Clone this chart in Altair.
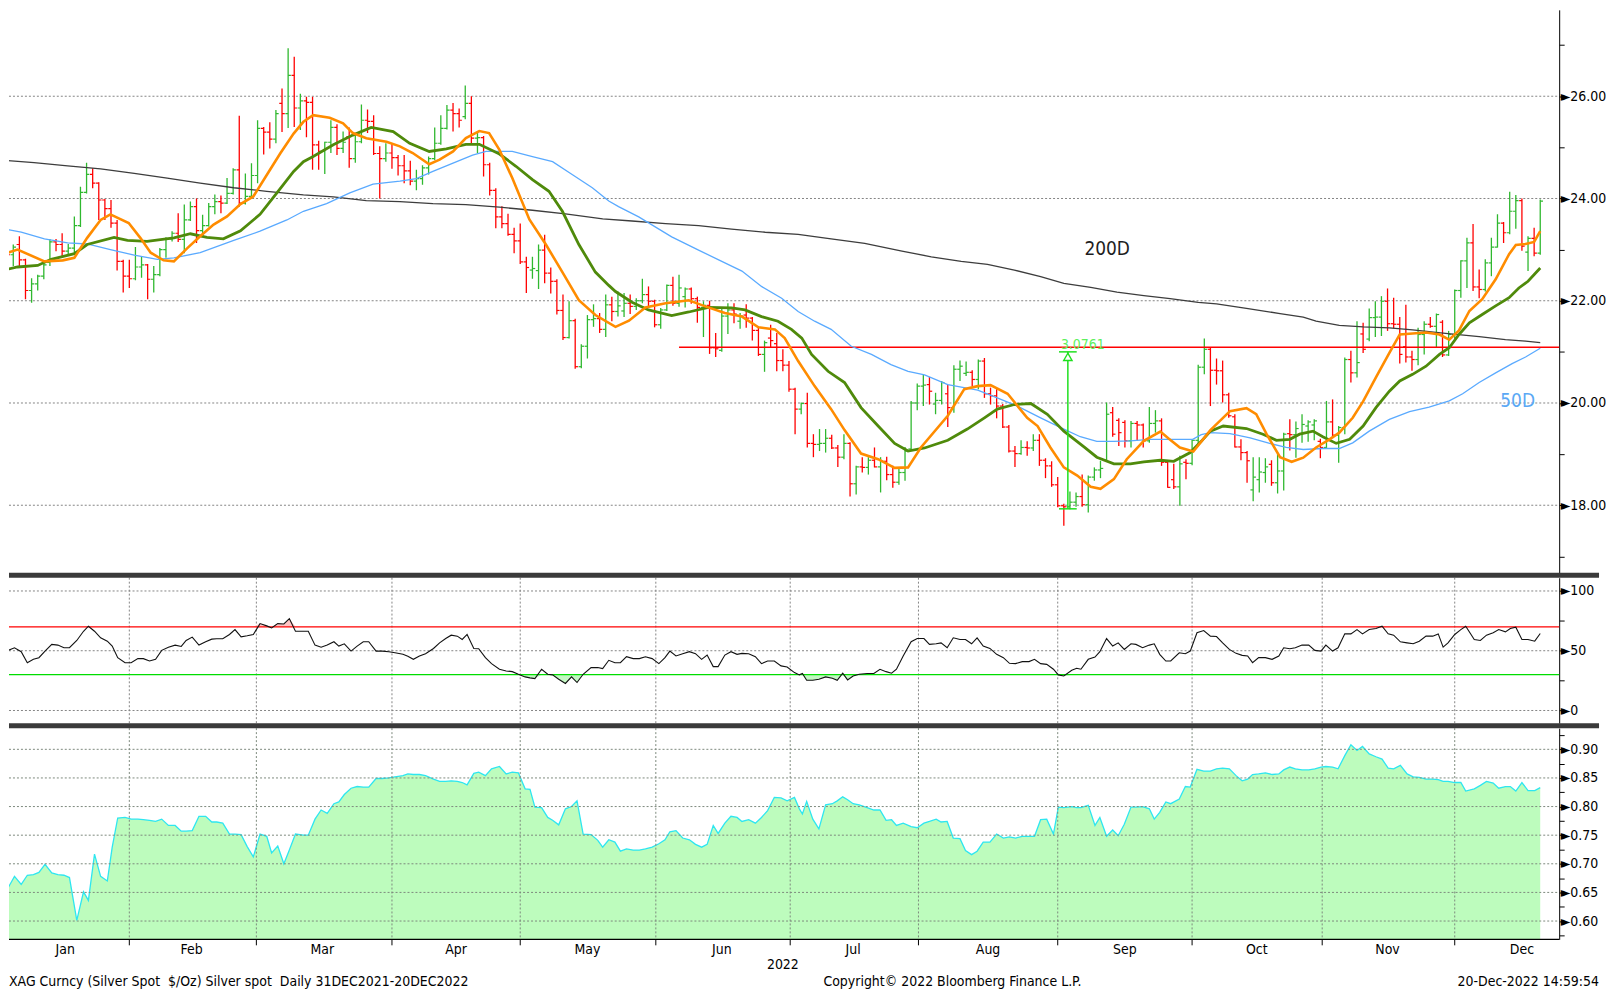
import altair as alt
import pandas as pd

FONT = "Liberation Sans Narrow, DejaVu Sans Condensed, Arial Narrow, sans-serif"

# ---------------- price data (daily OHLC, trading-day index 0..252) ----------------
opens = [
    23.05, 23.2, 22.9, 23.1, 22.8, 22.2, 22.33, 22.48, 22.75, 23.15,
    23.1, 22.97, 23.03, 23.47, 24.12, 24.47, 24.3, 23.97, 23.8, 23.52,
    22.77, 22.48, 22.43, 22.66, 22.7, 22.42, 22.51, 23.0, 23.21, 23.32,
    23.2, 23.58, 23.84, 23.37, 23.47, 23.84, 23.94, 23.91, 24.1, 24.56,
    23.91, 24.04, 24.45, 25.37, 25.3, 25.16, 25.86, 25.66, 26.41, 25.77,
    25.91, 25.88, 25.05, 24.92, 25.1, 25.39, 24.98, 25.21, 24.78, 25.11,
    25.53, 25.51, 24.88, 24.78, 24.89, 24.8, 24.64, 24.54, 24.34, 24.39,
    24.6, 24.78, 25.08, 25.37, 25.73, 25.66, 25.6, 25.86, 25.18, 25.19,
    24.66, 24.16, 23.64, 23.51, 23.3, 23.17, 22.76, 22.6, 22.59, 22.99,
    22.54, 22.38, 21.81, 21.28, 21.61, 20.71, 21.11, 21.63, 21.65, 21.44,
    21.92, 21.79, 21.8, 21.95, 21.89, 22.0, 22.12, 21.99, 21.53, 21.82,
    22.3, 21.95, 22.08, 22.23, 22.04, 21.87, 21.91, 21.08, 21.03, 21.7,
    21.82, 21.6, 21.72, 21.66, 21.42, 20.95, 21.27, 21.16, 20.83, 20.74,
    20.27, 19.88, 19.99, 19.21, 19.19, 19.21, 19.31, 19.12, 18.94, 19.21,
    18.42, 18.75, 18.74, 18.88, 18.75, 18.86, 18.6, 18.45, 18.64, 19.1,
    20.0, 20.33, 20.36, 19.98, 20.05, 20.18, 19.91, 20.66, 20.58, 20.6,
    20.46, 20.82, 20.18, 20.14, 19.94, 19.53, 19.06, 19.01, 19.13, 19.12,
    19.27, 18.88, 18.77, 18.4, 17.99, 17.97, 18.06, 18.17, 18.01, 18.55,
    18.69, 18.88, 19.81, 19.66, 19.62, 19.26, 19.6, 19.57, 19.26, 19.6,
    19.65, 18.84, 18.5, 18.36, 18.84, 18.82, 19.27, 20.7, 21.05, 20.64,
    20.63, 20.16, 19.73, 19.14, 19.03, 18.3, 18.5, 18.64, 18.8, 18.44,
    18.67, 19.4, 19.38, 19.4, 19.55, 19.57, 19.25, 19.13, 19.63, 19.37,
    19.52, 20.85, 20.59, 21.35, 21.25, 21.67, 21.68, 21.99, 21.55, 21.54,
    21.1, 20.9, 20.85, 21.34, 21.54, 21.5, 21.58, 20.94, 21.34, 22.2,
    22.78, 23.13, 22.27, 22.22, 22.74, 23.05, 23.52, 23.33, 23.75, 23.96,
    22.95, 23.22, 22.93,
]
highs = [
    23.38, 23.23, 23.10, 23.26, 22.82, 22.44, 22.51, 22.77, 23.21, 23.21,
    23.32, 23.11, 23.65, 24.23, 24.7, 24.59, 24.32, 23.99, 23.97, 23.58,
    22.8, 22.8, 23.05, 22.87, 22.72, 22.68, 23.03, 23.24, 23.36, 23.71,
    23.88, 23.94, 24.0, 23.68, 23.91, 24.08, 24.06, 24.4, 24.59, 25.62,
    24.49, 24.69, 25.53, 25.4, 25.49, 25.73, 26.15, 26.94, 26.77, 26.05,
    25.99, 25.99, 25.13, 25.11, 25.53, 25.45, 25.31, 25.39, 25.24, 25.84,
    25.74, 25.63, 25.02, 25.08, 25.08, 24.85, 24.85, 24.74, 24.56, 24.65,
    24.82, 25.39, 25.63, 25.83, 25.87, 25.76, 26.21, 26.0, 25.31, 25.22,
    24.7, 24.2, 23.85, 23.7, 23.43, 23.51, 22.86, 22.86, 23.1, 23.29,
    22.65, 22.42, 22.12, 21.99, 21.65, 21.15, 21.72, 21.93, 21.76, 22.12,
    22.08, 22.18, 22.15, 22.12, 22.05, 22.43, 22.28, 22.02, 21.86, 22.32,
    22.47, 22.51, 22.26, 22.26, 22.08, 21.99, 22.0, 21.37, 21.86, 21.95,
    21.95, 21.76, 21.93, 21.68, 21.47, 21.22, 21.53, 21.37, 21.05, 20.82,
    20.3, 20.01, 20.2, 19.39, 19.49, 19.49, 19.38, 19.18, 19.39, 19.23,
    18.77, 18.94, 18.94, 19.13, 18.94, 18.95, 18.77, 18.75, 19.14, 20.04,
    20.38, 20.56, 20.51, 20.2, 20.43, 20.36, 20.74, 20.83, 20.81, 20.64,
    20.85, 20.88, 20.3, 20.27, 19.98, 19.57, 19.16, 19.27, 19.25, 19.39,
    19.39, 18.92, 18.86, 18.55, 18.03, 18.27, 18.25, 18.6, 18.58, 18.74,
    18.87, 20.01, 19.92, 19.7, 19.66, 19.65, 19.65, 19.6, 19.92, 19.86,
    19.7, 18.88, 18.81, 18.97, 18.9, 19.29, 20.75, 21.26, 21.08, 20.87,
    20.83, 20.2, 19.78, 19.29, 19.06, 18.94, 18.94, 18.92, 18.88, 19.0,
    19.42, 19.68, 19.64, 19.78, 19.66, 19.68, 19.3, 20.04, 20.07, 19.55,
    20.89, 21.02, 21.6, 21.57, 21.85, 21.99, 22.09, 22.24, 22.06, 21.68,
    21.92, 21.02, 21.47, 21.6, 21.68, 21.75, 21.62, 21.41, 22.22, 22.79,
    23.23, 23.5, 22.61, 22.81, 23.23, 23.69, 23.54, 24.13, 24.07, 24.0,
    23.26, 23.43, 23.98,
]
lows = [
    22.95, 22.68, 22.68, 22.68, 22.03, 21.96, 22.2, 22.42, 22.68, 22.97,
    22.87, 22.89, 22.93, 23.44, 24.1, 24.2, 23.58, 23.58, 23.43, 22.59,
    22.16, 22.25, 22.4, 22.45, 22.03, 22.16, 22.48, 22.84, 23.16, 23.15,
    22.93, 23.56, 23.13, 23.26, 23.45, 23.69, 23.71, 23.89, 24.08, 23.84,
    23.88, 24.0, 24.3, 24.86, 24.98, 25.08, 25.3, 25.38, 25.4, 25.34,
    25.2, 24.56, 24.56, 24.48, 24.89, 24.85, 24.89, 24.6, 24.7, 25.08,
    25.28, 24.85, 24.0, 24.72, 24.58, 24.45, 24.3, 24.26, 24.16, 24.27,
    24.47, 24.75, 25.05, 25.35, 25.31, 25.39, 25.55, 25.08, 24.89, 24.43,
    24.06, 23.42, 23.42, 23.27, 22.93, 22.72, 22.15, 22.43, 22.23, 22.34,
    22.14, 21.73, 21.23, 21.26, 20.67, 20.68, 20.87, 21.49, 21.37, 21.29,
    21.6, 21.69, 21.68, 21.74, 21.82, 21.95, 21.87, 21.48, 21.45, 21.8,
    21.9, 21.88, 21.87, 21.94, 21.57, 21.29, 20.96, 20.9, 21.0, 21.35,
    21.56, 21.45, 21.47, 21.22, 20.92, 20.61, 21.09, 20.62, 20.62, 20.22,
    19.39, 19.78, 19.13, 18.94, 19.06, 19.03, 19.1, 18.75, 18.9, 18.17,
    18.21, 18.64, 18.6, 18.74, 18.25, 18.49, 18.34, 18.4, 18.48, 19.06,
    19.86, 19.94, 19.97, 19.78, 19.97, 19.53, 19.81, 20.43, 20.53, 20.33,
    20.27, 20.1, 19.97, 19.7, 19.51, 19.03, 18.75, 18.99, 18.97, 19.06,
    18.77, 18.53, 18.36, 17.96, 17.6, 17.92, 17.97, 17.97, 17.86, 18.48,
    18.53, 18.87, 19.34, 19.16, 19.13, 19.13, 19.26, 19.13, 19.22, 19.42,
    18.77, 18.34, 18.32, 17.99, 18.51, 18.78, 19.15, 20.56, 19.94, 20.36,
    20.01, 19.71, 19.13, 18.88, 18.44, 18.08, 18.25, 18.44, 18.38, 18.23,
    18.29, 19.07, 18.93, 19.22, 19.24, 19.27, 18.92, 19.1, 19.32, 18.83,
    19.39, 20.4, 20.5, 20.98, 21.21, 21.29, 21.31, 21.41, 21.46, 20.77,
    20.79, 20.63, 20.74, 20.95, 21.47, 21.09, 20.9, 20.92, 21.24, 22.06,
    22.25, 22.19, 22.05, 22.18, 22.48, 23.04, 23.13, 23.3, 23.41, 22.98,
    22.58, 22.87, 22.9,
]
closes = [
    23.33, 22.9, 23.05, 22.8, 22.2, 22.33, 22.48, 22.7, 23.15, 23.1,
    22.97, 23.03, 23.47, 24.12, 24.47, 24.3, 23.97, 23.8, 23.52, 22.77,
    22.48, 22.43, 22.66, 22.7, 22.42, 22.51, 23.0, 23.21, 23.32, 23.2,
    23.58, 23.84, 23.37, 23.47, 23.84, 23.94, 23.91, 24.1, 24.56, 23.91,
    24.04, 24.45, 25.37, 25.3, 25.16, 25.66, 25.66, 26.41, 25.77, 25.91,
    25.88, 25.05, 24.92, 25.1, 25.39, 24.98, 25.1, 24.78, 25.11, 25.53,
    25.51, 24.88, 24.78, 24.89, 24.8, 24.64, 24.54, 24.34, 24.39, 24.6,
    24.78, 25.08, 25.37, 25.73, 25.66, 25.53, 25.86, 25.18, 25.19, 24.66,
    24.16, 23.64, 23.51, 23.3, 23.17, 22.76, 22.65, 22.63, 22.99, 22.54,
    22.38, 21.81, 21.28, 21.61, 20.71, 21.11, 21.63, 21.65, 21.44, 21.92,
    21.79, 21.9, 21.95, 21.89, 22.0, 22.12, 21.99, 21.53, 21.82, 22.3,
    21.95, 22.25, 22.23, 22.04, 21.87, 21.91, 21.08, 21.06, 21.7, 21.82,
    21.74, 21.7, 21.66, 21.42, 20.95, 21.18, 21.22, 20.83, 20.74, 20.27,
    19.88, 19.99, 19.21, 19.19, 19.21, 19.31, 19.12, 18.94, 19.21, 18.42,
    18.75, 18.74, 18.88, 18.75, 18.86, 18.6, 18.45, 18.64, 19.06, 20.0,
    20.33, 20.35, 20.23, 20.05, 20.4, 19.91, 20.66, 20.72, 20.6, 20.46,
    20.82, 20.18, 20.14, 19.94, 19.53, 19.06, 19.01, 19.13, 19.12, 19.27,
    18.88, 18.77, 18.4, 17.99, 17.97, 18.06, 18.17, 18.01, 18.55, 18.69,
    18.72, 19.78, 19.39, 19.42, 19.26, 19.6, 19.57, 19.26, 19.6, 19.65,
    18.84, 18.35, 18.36, 18.81, 18.82, 19.27, 20.7, 21.05, 20.64, 20.63,
    20.16, 19.75, 19.14, 19.03, 18.87, 18.55, 18.65, 18.75, 18.44, 18.67,
    19.39, 19.38, 19.5, 19.58, 19.63, 19.65, 19.13, 19.63, 19.37, 19.52,
    20.85, 20.59, 20.79, 21.05, 21.67, 21.68, 21.99, 21.55, 21.54, 20.95,
    20.9, 20.85, 21.34, 21.54, 21.5, 21.73, 20.94, 21.34, 22.2, 22.78,
    23.13, 22.27, 22.22, 22.74, 23.05, 23.52, 23.33, 23.75, 23.96, 23.07,
    23.22, 22.93, 23.95,
]

# ---------------- moving averages (day, value) ----------------
ma_fast = [(0, 22.9), (2.7, 23.0), (7.1, 22.77), (10.1, 22.79), (12.0, 22.84), (14.1, 23.23), (16.3, 23.58),
           (17.9, 23.69), (20.9, 23.52), (22.8, 23.23), (24.5, 22.94), (26.6, 22.79), (28.3, 22.77), (30.5, 23.03),
           (32.6, 23.26), (34.8, 23.49), (37.0, 23.65), (39.2, 23.89), (41.3, 24.04), (43.5, 24.46), (45.7, 24.88),
           (47.9, 25.27), (49.5, 25.5), (51.1, 25.63), (53.8, 25.58), (56.0, 25.47), (57.6, 25.28), (59.8, 25.18),
           (63.1, 25.11), (65.3, 25.02), (67.4, 24.89), (70.1, 24.67), (71.8, 24.76), (74.0, 24.92), (76.1, 25.18),
           (78.3, 25.32), (79.9, 25.28), (81.6, 24.95), (83.7, 24.4), (86.5, 23.59), (89.2, 23.1), (91.9, 22.56),
           (94.6, 22.01), (97.3, 21.72), (100.6, 21.49), (102.8, 21.61), (105.5, 21.87), (108.8, 21.95),
           (112.6, 22.01), (115.3, 21.89), (118.5, 21.76), (121.3, 21.69), (124.0, 21.48), (126.7, 21.44),
           (128.3, 21.27), (130.5, 20.82), (133.2, 20.33), (135.9, 19.88), (138.1, 19.47), (140.8, 19.01),
           (143.6, 18.9), (146.3, 18.73), (148.5, 18.74), (150.6, 19.13), (155.0, 19.75), (157.7, 20.27),
           (159.9, 20.33), (162.0, 20.35), (164.8, 20.18), (168.0, 19.71), (169.7, 19.55), (171.8, 19.13),
           (174.0, 18.74), (176.2, 18.58), (178.4, 18.36), (180.0, 18.32), (182.2, 18.51), (184.3, 18.9),
           (187.1, 19.26), (189.8, 19.44), (191.1, 19.31), (193.0, 19.13), (195.2, 19.05), (198.0, 19.47),
           (201.2, 19.84), (203.9, 19.9), (205.5, 19.78), (207.2, 19.39), (209.4, 18.94), (211.3, 18.85),
           (213.2, 18.93), (215.3, 19.13), (217.5, 19.29), (219.1, 19.42), (221.3, 19.71), (223.0, 20.03),
           (225.1, 20.5), (227.3, 20.98), (229.0, 21.34), (231.1, 21.36), (233.3, 21.38), (235.5, 21.34),
           (237.1, 21.24), (238.7, 21.42), (240.4, 21.8), (242.5, 22.03), (244.7, 22.42), (246.9, 22.91),
           (248.0, 23.09), (249.6, 23.11), (251.0, 23.15), (252.0, 23.36)]
ma_mid = [(0, 22.59), (2.7, 22.66), (6.0, 22.69), (8.2, 22.81), (12.0, 22.92), (14.1, 23.1), (18.5, 23.24),
          (20.7, 23.18), (23.9, 23.16), (28.3, 23.23), (31.0, 23.31), (33.7, 23.24), (36.4, 23.21), (39.2, 23.37),
          (42.4, 23.69), (45.1, 24.1), (47.9, 24.53), (49.5, 24.72), (51.1, 24.82), (54.4, 25.05), (57.6, 25.24),
          (60.6, 25.39), (64.2, 25.31), (66.9, 25.08), (70.1, 24.92), (72.9, 24.97), (76.1, 25.06), (78.3, 25.06),
          (81.6, 24.87), (84.3, 24.63), (87.0, 24.37), (89.7, 24.14), (91.9, 23.75), (94.6, 23.1), (97.3, 22.56),
          (99.5, 22.3), (100.6, 22.18), (103.3, 21.97), (106.0, 21.82), (109.8, 21.71), (112.6, 21.78),
          (115.8, 21.87), (119.6, 21.86), (121.8, 21.82), (124.5, 21.69), (127.2, 21.6), (129.4, 21.44),
          (131.1, 21.27), (132.7, 20.95), (135.4, 20.62), (138.1, 20.4), (140.8, 19.91), (143.6, 19.55),
          (146.3, 19.21), (148.5, 19.06), (151.2, 19.12), (155.0, 19.27), (158.2, 19.49), (161.0, 19.71),
          (163.1, 19.88), (165.9, 19.97), (168.6, 19.99), (171.3, 19.78), (174.0, 19.45), (177.3, 19.14),
          (179.4, 18.94), (182.2, 18.81), (184.9, 18.81), (187.1, 18.85), (189.8, 18.88), (192.0, 18.86),
          (194.7, 19.03), (196.5, 19.25), (198.0, 19.45), (200.1, 19.55), (203.9, 19.5), (206.6, 19.39),
          (208.8, 19.27), (211.0, 19.29), (212.6, 19.39), (214.8, 19.45), (216.4, 19.34), (218.6, 19.21),
          (220.8, 19.29), (223.0, 19.55), (225.1, 19.91), (227.3, 20.23), (229.0, 20.43), (231.1, 20.56),
          (233.3, 20.72), (235.5, 20.95), (237.1, 21.08), (238.7, 21.34), (240.4, 21.57), (242.5, 21.73),
          (244.7, 21.9), (246.9, 22.06), (248.5, 22.25), (250.0, 22.38), (252.0, 22.64)]
ma_50d = [(0, 23.42), (3.3, 23.34), (7.1, 23.21), (10.9, 23.13), (14.1, 23.11), (17.9, 23.0), (21.8, 22.89),
          (25.6, 22.81), (28.3, 22.84), (32.6, 22.94), (38.1, 23.18), (42.4, 23.36), (46.8, 23.58), (49.5, 23.75),
          (53.3, 23.9), (57.1, 24.11), (60.9, 24.28), (65.3, 24.34), (68.0, 24.39), (70.7, 24.53), (74.0, 24.69),
          (77.2, 24.85), (79.4, 24.92), (83.7, 24.92), (87.0, 24.82), (90.3, 24.72), (93.5, 24.47), (96.8, 24.21),
          (99.5, 23.95), (101.1, 23.84), (104.4, 23.64), (109.8, 23.25), (114.2, 22.99), (118.0, 22.77),
          (121.3, 22.58), (124.5, 22.28), (127.8, 22.05), (130.5, 21.79), (133.2, 21.6), (135.9, 21.44),
          (139.2, 21.11), (142.5, 20.95), (145.7, 20.75), (148.5, 20.62), (151.2, 20.55), (155.0, 20.36),
          (159.9, 20.25), (163.1, 20.1), (166.4, 19.94), (170.2, 19.71), (174.0, 19.49), (176.7, 19.34),
          (179.4, 19.25), (182.2, 19.25), (184.9, 19.26), (188.1, 19.29), (191.4, 19.29), (195.1, 19.29),
          (196.5, 19.38), (198.0, 19.42), (201.2, 19.4), (204.5, 19.32), (207.7, 19.21), (210.4, 19.13),
          (213.2, 19.09), (216.4, 19.11), (219.1, 19.11), (221.3, 19.22), (224.0, 19.45), (227.3, 19.68),
          (230.6, 19.83), (233.8, 19.92), (237.1, 20.04), (239.3, 20.18), (242.0, 20.4), (244.7, 20.59),
          (247.4, 20.77), (249.6, 20.9), (252.0, 21.07)]
ma_200d = [(0, 24.75), (5.4, 24.7), (10.9, 24.64), (16.3, 24.58), (21.8, 24.49), (27.2, 24.4), (32.6, 24.3),
           (38.1, 24.21), (43.5, 24.14), (49.5, 24.07), (54.4, 24.03), (59.8, 23.96), (65.3, 23.94), (70.7, 23.9),
           (76.1, 23.88), (81.6, 23.83), (87.0, 23.77), (92.4, 23.7), (98.5, 23.6), (103.3, 23.56), (108.8, 23.51),
           (114.2, 23.47), (119.6, 23.4), (125.1, 23.34), (130.5, 23.3), (135.9, 23.21), (141.4, 23.12),
           (147.5, 22.97), (152.3, 22.86), (157.2, 22.77), (161.5, 22.71), (165.9, 22.6), (170.2, 22.47),
           (174.0, 22.34), (178.4, 22.26), (182.7, 22.17), (187.1, 22.1), (191.4, 22.04), (196.0, 21.97),
           (199.0, 21.94), (203.9, 21.85), (209.4, 21.75), (213.2, 21.68), (215.3, 21.6), (219.1, 21.52),
           (223.0, 21.49), (227.3, 21.47), (231.1, 21.43), (236.5, 21.36), (242.0, 21.3), (246.3, 21.24),
           (249.6, 21.21), (252.0, 21.18)]

# ---------------- lower panels: (day, RSI, correlation) ----------------
lower_pts = [
    (0.3, 57.5, 0.642), (1.2, 50.3, 0.659), (2.2, 52.5, 0.678), (3.3, 49.2, 0.664), (4.3, 40.0, 0.680),
    (5.3, 42.8, 0.681), (6.2, 44.2, 0.685), (7.2, 49.7, 0.699), (8.3, 55.3, 0.684), (9.3, 54.7, 0.681),
    (10.3, 52.5, 0.680), (11.2, 52.5, 0.676), (12.4, 58.6, 0.601), (13.5, 66.3, 0.651), (14.3, 70.5, 0.636),
    (15.3, 66.3, 0.717), (16.3, 60.8, 0.678), (17.4, 58.0, 0.670), (18.2, 53.9, 0.729), (19.1, 44.2, 0.780),
    (20.3, 40.0, 0.781), (21.3, 40.0, 0.778), (22.4, 43.4, 0.778), (23.3, 43.4, 0.777), (24.3, 41.4, 0.776),
    (25.3, 42.8, 0.774), (26.3, 50.3, 0.778), (27.4, 53.0, 0.767), (28.5, 54.7, 0.767), (29.5, 53.6, 0.757),
    (30.3, 58.6, 0.757), (31.3, 61.4, 0.758), (32.4, 54.7, 0.783), (33.5, 57.5, 0.783), (34.5, 59.7, 0.773),
    (35.3, 60.0, 0.773), (36.3, 60.0, 0.771), (37.4, 63.6, 0.752), (38.3, 67.7, 0.752), (39.3, 61.6, 0.751),
    (40.3, 62.5, 0.730), (41.3, 63.6, 0.712), (42.4, 72.7, 0.752), (43.5, 70.8, 0.748), (44.3, 69.1, 0.719),
    (45.3, 72.7, 0.731), (46.3, 72.4, 0.700), (47.2, 76.9, 0.724), (48.2, 66.3, 0.752), (49.5, 66.3, 0.750),
    (50.3, 66.3, 0.750), (51.4, 54.7, 0.778), (52.4, 53.0, 0.794), (53.4, 54.7, 0.788), (54.5, 57.5, 0.805),
    (55.3, 53.9, 0.808), (56.2, 55.8, 0.821), (57.3, 49.7, 0.832), (58.3, 53.9, 0.835), (59.3, 57.5, 0.834),
    (60.2, 57.5, 0.834), (61.4, 49.7, 0.849), (62.4, 49.7, 0.849), (63.5, 49.2, 0.850), (64.5, 48.3, 0.852),
    (65.8, 47.0, 0.854), (66.6, 45.3, 0.857), (67.5, 42.8, 0.856), (68.5, 45.6, 0.856), (69.5, 47.5, 0.854),
    (70.8, 51.9, 0.848), (71.8, 56.6, 0.844), (72.8, 60.2, 0.844), (73.7, 63.0, 0.845), (74.7, 62.2, 0.844),
    (75.5, 59.4, 0.842), (76.3, 63.6, 0.838), (77.4, 51.9, 0.858), (78.2, 51.7, 0.860), (79.3, 44.2, 0.854),
    (80.3, 39.2, 0.866), (81.6, 34.5, 0.870), (82.7, 33.1, 0.857), (83.7, 32.5, 0.860), (84.7, 30.3, 0.859),
    (85.8, 28.1, 0.831), (86.6, 27.3, 0.830), (87.4, 26.7, 0.799), (88.5, 34.5, 0.798), (89.5, 30.3, 0.781),
    (90.3, 29.8, 0.776), (91.3, 26.2, 0.768), (92.4, 22.6, 0.796), (93.4, 28.1, 0.800), (94.3, 23.4, 0.810),
    (95.3, 30.3, 0.752), (96.6, 35.9, 0.751), (97.7, 35.9, 0.741), (98.5, 35.0, 0.729), (99.5, 42.0, 0.742),
    (100.5, 40.0, 0.738), (101.4, 40.0, 0.722), (102.4, 45.0, 0.726), (103.5, 43.4, 0.724), (104.5, 43.4, 0.724),
    (105.5, 45.0, 0.726), (106.6, 43.4, 0.729), (107.7, 39.2, 0.735), (108.7, 44.2, 0.742), (109.5, 49.7, 0.756),
    (110.5, 45.6, 0.758), (111.6, 47.5, 0.745), (112.7, 49.2, 0.742), (113.7, 47.5, 0.734), (114.7, 42.8, 0.729),
    (115.6, 46.4, 0.734), (116.6, 36.7, 0.767), (117.4, 36.7, 0.753), (118.5, 46.4, 0.771), (119.5, 49.2, 0.783),
    (120.5, 47.0, 0.781), (121.3, 47.8, 0.774), (122.4, 47.5, 0.777), (123.5, 45.0, 0.771), (124.5, 39.2, 0.781),
    (125.5, 41.4, 0.793), (126.6, 41.4, 0.816), (127.7, 37.3, 0.815), (128.7, 36.4, 0.810), (129.9, 31.7, 0.816),
    (130.7, 29.8, 0.796), (131.2, 30.9, 0.787), (131.9, 25.3, 0.809), (132.9, 25.3, 0.778), (133.9, 26.2, 0.761),
    (135.0, 28.1, 0.803), (136.1, 27.0, 0.805), (136.9, 25.3, 0.810), (137.8, 31.2, 0.817), (138.6, 25.6, 0.812),
    (139.5, 28.9, 0.805), (140.5, 30.3, 0.803), (141.8, 30.9, 0.798), (142.9, 30.9, 0.794), (143.9, 34.5, 0.794),
    (144.9, 32.5, 0.776), (145.8, 31.2, 0.777), (146.6, 34.5, 0.767), (147.7, 45.6, 0.771), (149.0, 57.5, 0.765),
    (150.0, 60.2, 0.763), (151.1, 60.2, 0.771), (152.0, 55.3, 0.774), (153.1, 55.8, 0.778), (153.9, 56.6, 0.773),
    (154.9, 52.5, 0.774), (155.9, 60.8, 0.745), (157.0, 59.4, 0.744), (157.9, 59.4, 0.723), (158.9, 55.8, 0.716),
    (159.8, 60.8, 0.722), (160.8, 53.9, 0.738), (161.9, 51.9, 0.738), (163.0, 47.0, 0.752), (164.1, 44.2, 0.745),
    (165.1, 39.5, 0.747), (166.1, 39.2, 0.745), (167.2, 40.9, 0.748), (168.3, 40.9, 0.748), (169.2, 42.8, 0.748),
    (170.2, 39.2, 0.777), (171.2, 38.6, 0.778), (172.3, 34.5, 0.752), (173.1, 29.8, 0.799), (174.0, 28.9, 0.798),
    (175.3, 33.7, 0.800), (176.1, 35.3, 0.798), (176.8, 34.5, 0.798), (178.0, 42.8, 0.802), (179.1, 44.7, 0.767),
    (179.9, 49.2, 0.781), (181.0, 60.2, 0.748), (182.0, 53.9, 0.759), (182.9, 56.6, 0.749), (183.9, 51.1, 0.769),
    (185.0, 55.8, 0.799), (185.8, 55.3, 0.799), (186.9, 52.5, 0.800), (188.0, 54.7, 0.796), (188.8, 55.8, 0.778),
    (189.7, 47.0, 0.790), (190.7, 41.4, 0.808), (191.5, 41.4, 0.805), (192.9, 48.3, 0.813), (193.9, 47.5, 0.835),
    (194.7, 49.7, 0.834), (195.8, 65.0, 0.865), (196.9, 66.9, 0.862), (198.0, 62.2, 0.862), (199.0, 61.9, 0.866),
    (200.0, 56.6, 0.867), (201.1, 51.1, 0.866), (202.2, 47.8, 0.854), (203.2, 46.1, 0.845), (204.1, 45.6, 0.848),
    (204.9, 40.0, 0.856), (205.9, 44.2, 0.857), (207.0, 44.2, 0.859), (208.1, 42.8, 0.856), (209.2, 45.6, 0.857),
    (210.0, 52.5, 0.864), (211.0, 51.7, 0.869), (211.9, 52.5, 0.866), (213.0, 54.7, 0.864), (214.1, 54.7, 0.864),
    (215.1, 50.3, 0.866), (216.1, 49.7, 0.869), (216.9, 54.7, 0.870), (218.0, 49.7, 0.869), (218.9, 52.5, 0.866),
    (220.0, 64.1, 0.889), (221.0, 64.1, 0.908), (222.0, 67.7, 0.898), (222.9, 64.1, 0.905), (224.0, 67.7, 0.892),
    (225.1, 68.6, 0.887), (226.1, 70.5, 0.883), (227.1, 64.1, 0.867), (228.0, 63.0, 0.866), (229.1, 57.5, 0.872),
    (230.2, 56.6, 0.857), (231.2, 55.8, 0.852), (232.2, 58.0, 0.851), (233.3, 62.2, 0.848), (234.4, 62.2, 0.848),
    (235.3, 64.1, 0.847), (236.1, 53.0, 0.844), (236.9, 56.6, 0.844), (238.0, 63.6, 0.842), (239.0, 67.7, 0.842),
    (239.8, 70.5, 0.827), (241.2, 59.4, 0.831), (242.2, 58.6, 0.837), (243.2, 63.0, 0.844), (244.3, 65.0, 0.841),
    (245.2, 67.7, 0.832), (246.3, 65.8, 0.835), (247.1, 68.6, 0.835), (248.0, 69.7, 0.827), (249.0, 59.4, 0.842),
    (250.0, 59.4, 0.828), (251.1, 58.0, 0.828), (252.0, 64.4, 0.833),
]

# ---------------- calendar / reference levels ----------------
month_names = ["Jan", "Feb", "Mar", "Apr", "May", "Jun", "Jul", "Aug", "Sep", "Oct", "Nov", "Dec"]
month_center = [10.5, 31.2, 52.6, 74.5, 96.0, 118.0, 139.5, 161.6, 184.0, 205.6, 227.0, 249.0]
month_bounds = [21.0, 41.8, 64.0, 85.0, 107.2, 129.2, 150.2, 173.0, 195.0, 216.3, 238.0]
year_label = [("2022", 128.0)]
price_grid = [18, 20, 22, 24, 26]
price_ticks = list(range(17, 28))
rsi_grid = [0, 50, 100]
rsi_ticks = [0, 25, 50, 75, 100]
rsi_over, rsi_under = 70, 30
corr_grid = [0.60, 0.65, 0.70, 0.75, 0.80, 0.85, 0.90]
corr_ticks = [0.575, 0.60, 0.625, 0.65, 0.675, 0.70, 0.725, 0.75, 0.775, 0.80, 0.825, 0.85, 0.875, 0.90, 0.925]
resistance_level = 21.09
resistance_start = 111
move_day, move_low, move_high, move_text = 174.66, 17.93, 21.0, "3.0761"
ma_labels = [("200D", 181.1, 23.01, "#1e1e1e"), ("50D", 248.3, 20.03, "#5aa8f5")]

# ---------------- layout / styles ----------------
W = 1556
H1, H2, H3 = 565, 146, 212
XMIN, XMAX = 1.3, 255.1
GREEN, RED = "#2fb82f", "#ff0000"
MOVE_GREEN = "#1fe01f"
GRID = "#858585"

xs = alt.Scale(domain=[XMIN, XMAX], nice=False, zero=False)
ps = alt.Scale(domain=[16.68, 27.69], nice=False, zero=False)
rs = alt.Scale(domain=[-10.6, 111.1], nice=False, zero=False)
cs = alt.Scale(domain=[0.568, 0.937], nice=False, zero=False)


def axis_right(values, expr):
    return alt.Axis(orient="right", values=values, labelExpr=expr, tickSize=5, tickColor="#000",
                    domainColor="#000", domainWidth=1, labelPadding=-4, grid=False, title=None,
                    labelFont=FONT, labelFontSize=14, labelColor="#000", labelOverlap=False,
                    labelFlush=False)


paxis = axis_right(price_ticks, "datum.value % 2 == 0 ? '\u25BA' + format(datum.value, '.2f') : ''")
raxis = axis_right(rsi_ticks, "datum.value % 50 == 0 ? '\u25BA' + datum.value : ''")
caxis = axis_right(corr_ticks, "abs(datum.value * 20 - round(datum.value * 20)) < 0.01 ? '\u25BA' + format(datum.value, '.2f') : ''")


def X(f):
    return alt.X(f, type="quantitative", scale=xs, axis=None, title=None)


def PY(f):
    return alt.Y(f, type="quantitative", scale=ps, axis=paxis, title=None)


def RY(f):
    return alt.Y(f, type="quantitative", scale=rs, axis=raxis, title=None)


def CY(f):
    return alt.Y(f, type="quantitative", scale=cs, axis=caxis, title=None)


one = pd.DataFrame({"a": [0]})

# ---------------- price panel ----------------
ohlc = pd.DataFrame({"day": list(range(len(opens))), "open": opens, "high": highs, "low": lows, "close": closes})
ohlc["dir"] = ["up" if c >= o else "down" for o, c in zip(opens, closes)]
ohlc["xl"] = ohlc["day"] - 0.45
ohlc["xr"] = ohlc["day"] + 0.45
col = alt.Color("dir:N", scale=alt.Scale(domain=["up", "down"], range=[GREEN, RED]), legend=None)

pgrid = alt.Chart(pd.DataFrame({"v": price_grid})).mark_rule(color=GRID, strokeDash=[2, 2]).encode(
    y=PY("v"), x=alt.value(0), x2=alt.value(W))
wick = alt.Chart(ohlc).mark_rule(strokeWidth=1.3, clip=True).encode(x=X("day"), y=PY("low"), y2="high", color=col)
otick = alt.Chart(ohlc).mark_rule(strokeWidth=1.2, clip=True).encode(x=X("xl"), x2="day", y=PY("open"), color=col)
ctick = alt.Chart(ohlc).mark_rule(strokeWidth=1.2, clip=True).encode(x=X("day"), x2="xr", y=PY("close"), color=col)
res = alt.Chart(pd.DataFrame({"d": [resistance_start], "v": [resistance_level]})).mark_rule(
    color="#ff0000", strokeWidth=1.3).encode(x=X("d"), x2=alt.value(W), y=PY("v"))


def ma_line(pts, color, width):
    return alt.Chart(pd.DataFrame(pts, columns=["d", "v"])).mark_line(
        color=color, strokeWidth=width, clip=True).encode(x=X("d"), y=PY("v"))


l200 = ma_line(ma_200d, "#3d3d3d", 1.3)
l50 = ma_line(ma_50d, "#5aaaff", 1.3)
lmid = ma_line(ma_mid, "#4f8a0b", 2.8)
lfast = ma_line(ma_fast, "#ff8c00", 2.6)

mv = pd.DataFrame({"d": [move_day], "lo": [move_low], "hi": [move_high], "t": [move_text]})
mv_line = alt.Chart(mv).mark_rule(color=MOVE_GREEN, strokeWidth=1.5).encode(x=X("d"), y=PY("lo"), y2="hi")
caps = pd.DataFrame({"d1": [move_day - 1.45] * 2, "d2": [move_day + 1.45] * 2, "v": [move_low, move_high]})
mv_caps = alt.Chart(caps).mark_rule(color=MOVE_GREEN, strokeWidth=1.5).encode(x=X("d1"), x2="d2", y=PY("v"))
mv_tri = alt.Chart(mv).mark_point(shape="triangle-up", size=70, filled=True, fill="white", stroke=MOVE_GREEN,
                                  strokeWidth=1.4, opacity=1, yOffset=5).encode(x=X("d"), y=PY("hi"))
mv_text = alt.Chart(mv).mark_text(align="left", baseline="alphabetic", dx=-7, dy=-3, font=FONT, fontSize=14,
                                  color="#5ef05e").encode(x=X("d"), y=PY("hi"), text="t:N")

lab_df = pd.DataFrame(ma_labels, columns=["t", "d", "v", "c"])
ma_text = alt.Chart(lab_df).mark_text(align="center", baseline="middle", font=FONT, fontSize=19).encode(
    x=X("d"), y=PY("v"), text="t:N", color=alt.Color("c:N", scale=None))

price = alt.layer(pgrid, wick, otick, ctick, res, l200, l50, lmid, lfast, mv_line, mv_caps, mv_tri, mv_text,
                  ma_text).properties(width=W, height=H1)

# ---------------- RSI panel ----------------
lower = pd.DataFrame(lower_pts, columns=["d", "rsi", "corr"])
bounds_df = pd.DataFrame({"b": month_bounds})


def separator():
    return alt.Chart(one).mark_rect(color="#3a3a3a").encode(
        x=alt.value(0), x2=alt.value(W + 40), y=alt.value(-5), y2=alt.value(0))


rgrid = alt.Chart(pd.DataFrame({"v": rsi_grid})).mark_rule(color=GRID, strokeDash=[2, 2]).encode(
    y=RY("v"), x=alt.value(0), x2=alt.value(W))
rvgrid = alt.Chart(bounds_df).mark_rule(color=GRID, strokeDash=[2, 2]).encode(
    x=X("b"), y=alt.value(0), y2=alt.value(H2))
over_fill = alt.Chart(lower).transform_calculate(hi=f"max(datum.rsi, {rsi_over})", base=f"{rsi_over}").mark_area(
    color="#ffc4c4", clip=True).encode(x=X("d"), y=RY("hi"), y2="base")
under_fill = alt.Chart(lower).transform_calculate(lo=f"min(datum.rsi, {rsi_under})", base=f"{rsi_under}").mark_area(
    color="#c4f7c4", clip=True).encode(x=X("d"), y=RY("lo"), y2="base")
thr = pd.DataFrame({"v": [rsi_over, rsi_under], "c": ["#ff0000", "#00dd00"]})
rthr = alt.Chart(thr).mark_rule(strokeWidth=1.3).encode(
    y=RY("v"), x=alt.value(0), x2=alt.value(W), color=alt.Color("c:N", scale=None))
rline = alt.Chart(lower).mark_line(color="#111111", strokeWidth=1.1, clip=True).encode(x=X("d"), y=RY("rsi"))
rsi = alt.layer(rgrid, rvgrid, over_fill, under_fill, rthr, rline, separator()).properties(width=W, height=H2)

# ---------------- correlation panel ----------------
carea = alt.Chart(lower).mark_area(color="#bdfcbd", clip=True).encode(
    x=X("d"), y=CY("corr"), y2=alt.value(H3))
cline = alt.Chart(lower).mark_line(color="#2ee6f0", strokeWidth=1.3, clip=True).encode(x=X("d"), y=CY("corr"))
cgrid = alt.Chart(pd.DataFrame({"v": corr_grid})).mark_rule(color="#7d8a7d", strokeDash=[2, 2]).encode(
    y=CY("v"), x=alt.value(0), x2=alt.value(W))
cvgrid = alt.Chart(bounds_df).mark_rule(color="#7d8a7d", strokeDash=[2, 2]).encode(
    x=X("b"), y=alt.value(0), y2=alt.value(H3))
baseline = alt.Chart(one).mark_rule(color="#000", strokeWidth=1.3).encode(
    x=alt.value(0), x2=alt.value(W), y=alt.value(H3))
mticks = alt.Chart(bounds_df).mark_rule(color="#000").encode(x=X("b"), y=alt.value(H3), y2=alt.value(H3 + 6))
mlabels = alt.Chart(pd.DataFrame({"c": month_center, "m": month_names})).mark_text(
    baseline="alphabetic", font=FONT, fontSize=14, color="#000").encode(x=X("c"), y=alt.value(H3 + 15), text="m:N")
ylabel = alt.Chart(pd.DataFrame(year_label, columns=["t", "c"])).mark_text(
    baseline="alphabetic", font=FONT, fontSize=14, color="#000").encode(x=X("c"), y=alt.value(H3 + 30), text="t:N")
foot_l = alt.Chart(one).mark_text(align="left", baseline="alphabetic", font=FONT, fontSize=14, color="#000",
                                  text="XAG Curncy (Silver Spot\u00a0 $/Oz) Silver spot\u00a0 Daily 31DEC2021-20DEC2022"
                                  ).encode(x=alt.value(0), y=alt.value(H3 + 47))
foot_c = alt.Chart(one).mark_text(align="center", baseline="alphabetic", font=FONT, fontSize=14, color="#000",
                                  text="Copyright\u00a9 2022 Bloomberg Finance L.P.").encode(
    x=alt.value(947), y=alt.value(H3 + 47))
foot_r = alt.Chart(one).mark_text(align="right", baseline="alphabetic", font=FONT, fontSize=14, color="#000",
                                  text="20-Dec-2022 14:59:54").encode(x=alt.value(W + 40), y=alt.value(H3 + 47))
corr = alt.layer(carea, cline, cgrid, cvgrid, baseline, mticks, mlabels, ylabel, foot_l, foot_c, foot_r,
                 separator()).properties(width=W, height=H3)

chart = alt.vconcat(price, rsi, corr, spacing=5, bounds="flush", padding=0).configure(
    background="white").configure_view(stroke=None)

chart.save("out.html", embed_options={"renderer": "svg", "actions": False})
